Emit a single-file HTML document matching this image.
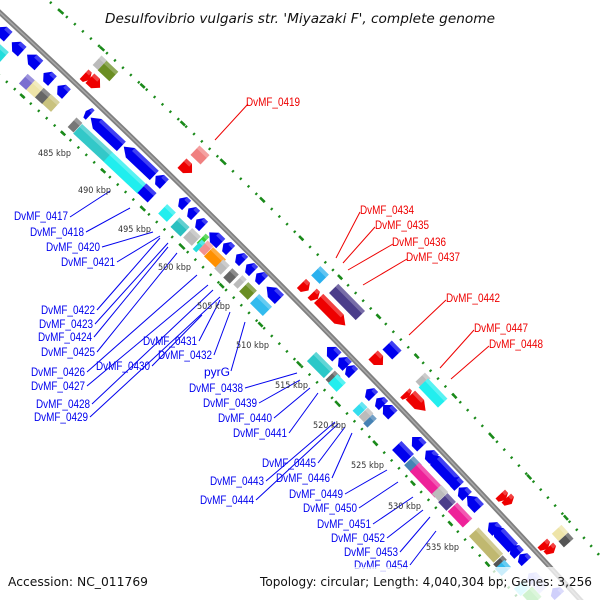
<!DOCTYPE html>
<html><head><meta charset="utf-8"><style>
html,body{margin:0;padding:0;background:#fff;width:600px;height:600px;overflow:hidden}
svg{display:block}
.lb{font-family:"Liberation Sans","DejaVu Sans",sans-serif;font-size:12px;fill:#0000ee}
.lr{font-family:"Liberation Sans","DejaVu Sans",sans-serif;font-size:12px;fill:#ee0000}
.kb{font-family:"DejaVu Sans","Liberation Sans",sans-serif;font-size:9px;fill:#333}
</style></head><body>
<svg width="600" height="600" viewBox="0 0 600 600" xmlns="http://www.w3.org/2000/svg">
<g fill="none" stroke="#1a8a1a">
<path d="M50 2 Q330 250 600 556" stroke-width="2.6" stroke-dasharray="2 8.8"/>
<path d="M50 2 Q330 250 600 556" stroke-width="2.6" stroke-dasharray="6 49" stroke-dashoffset="-12"/>
<path d="M-2 74 Q250 300 520 600" stroke-width="2.6" stroke-dasharray="2 8.8"/>
<path d="M-2 74 Q250 300 520 600" stroke-width="2.6" stroke-dasharray="6 49" stroke-dashoffset="-30"/>
</g>
<path d="M-5 8 Q270 262 585 605" fill="none" stroke="#808080" stroke-width="5"/>
<path d="M-5 8 Q270 262 585 605" fill="none" stroke="#a8a8a8" stroke-width="1.5"/>
<g id="genes"></g>
</svg>
<script>
(function(){
var NS="http://www.w3.org/2000/svg";
var B="#0000ee",R="#ee0000";
var G=[
[3,32,14,B,'l'],[17,47,14,B,'l'],[33,60,16,B,'l'],[48,77,12,B,'l'],[62,90,12,B,'l'],[0,53,12,'#22dddd','b'],
[27,82,10,'#7b6fd0','b'],[35,89,12,'#eee4a8','b'],[43,96,10,'#666','b'],[51,103,12,'#c9c27e','b'],
[87,77,8,R,'r'],[95,83,14,R,'r'],[100,63,8,'#bbb','b'],[108,71,16,'#6b8e23','b'],
[88,113,6,B,'l'],[106,132,42,B,'l'],[75,125,8,'#777','b'],[93,143,42,'#33c8c8','b'],[125,173,47,'#20eeee','b'],[139,161,42,B,'l'],[160,180,12,B,'l'],[147,193,14,B,'b'],
[200,155,14,'#f08080','b'],[187,168,14,R,'r'],
[183,202,10,B,'l'],[192,212,10,B,'l'],[200,223,10,B,'l'],[215,238,16,B,'l'],[227,247,10,B,'l'],[240,258,10,B,'l'],[250,268,10,B,'l'],[260,277,10,B,'l'],[273,293,18,B,'l'],
[167,213,12,'#22eeee','b'],[180,227,14,'#2bc0c0','b'],[192,237,12,'#bbb','b'],[203,240,5,'#33cc33','b'],[199,246,5,'#22dddd','b'],[206,248,8,'#f29090','b'],[215,258,18,'#ff9000','b'],
[222,267,9,'#bbb','b'],[231,276,9,'#666','b'],[240,282,6,'#bbb','b'],[248,291,12,'#6b8e23','b'],[261,305,18,'#33bbee','b'],
[320,275,12,'#2ab0ee','b'],[305,287,10,R,'r'],[315,296,8,R,'r'],[332,312,38,R,'r'],[347,302,38,'#4b3d8a','b'],
[378,360,14,R,'r'],[392,350,14,B,'b'],
[332,352,14,B,'l'],[343,362,12,B,'l'],[350,370,10,B,'l'],[320,365,24,'#2bc8c8','b'],[333,378,8,'#666','b'],[337,383,12,'#22eeee','b'],
[370,393,10,B,'l'],[380,402,10,B,'l'],[388,410,14,B,'l'],[360,409,8,'#33ddee','b'],[366,415,8,'#bbb','b'],[370,421,6,'#4682b4','b'],
[423,380,8,'#bbb','b'],[433,393,28,'#22eeee','b'],[418,403,22,R,'r'],[407,395,6,R,'r'],
[403,452,18,B,'b'],[417,442,14,B,'l'],[430,455,12,B,'l'],[442,468,38,B,'l'],[455,482,12,B,'l'],[463,492,12,B,'l'],[473,502,18,B,'l'],
[413,465,12,'#4682b4','b'],[427,480,36,'#ee2299','b'],[440,493,10,'#bbb','b'],[447,502,12,'#4b3d8a','b'],[460,515,22,'#ee2299','b'],
[493,527,12,B,'l'],[503,537,30,B,'l'],[515,550,12,B,'l'],[523,558,10,B,'l'],[486,545,36,'#c0b870','b'],[500,562,6,'#555','b'],[503,568,10,'#33bbee','b'],
[503,497,8,R,'r'],[509,501,8,R,'r'],[545,546,8,R,'r'],[551,550,8,R,'r'],[560,533,10,'#eee4a8','b'],[566,540,8,'#555','b'],
[532,577,10,'#aab0ff','l'],[540,585,12,'#ccd0ff','b'],[522,588,10,'#88eeff','b'],[532,596,14,'#44cc44','b'],[556,592,10,'#4444ee','l']
];
var g=document.getElementById('genes');
G.forEach(function(a){
 var x=a[0],y=a[1],L=a[2],c=a[3],t=a[4],h=6.5,ang=42+x/100;
 var e=document.createElementNS(NS,'g');
 e.setAttribute('transform','translate('+x+','+y+') rotate('+ang+')');
 var p=document.createElementNS(NS,'polygon'),pts,hl=Math.min(L*0.45,9),l=L/2;
 if(t=='b')pts=[[-l,-h],[l,-h],[l,h],[-l,h]];
 else if(t=='l')pts=[[-l,0],[-l+hl,-h],[l,-h],[l,h],[-l+hl,h]];
 else pts=[[l,0],[l-hl,-h],[-l,-h],[-l,h],[l-hl,h]];
 p.setAttribute('points',pts.map(function(q){return q.join(',')}).join(' '));
 p.setAttribute('fill',c);
 e.appendChild(p);
 var s=document.createElementNS(NS,'rect');
 s.setAttribute('x',-l+(t=='l'?hl:0));s.setAttribute('y',-h);s.setAttribute('width',Math.max(L-(t=='b'?0:hl),0));s.setAttribute('height',4);
 s.setAttribute('fill','#fff');s.setAttribute('opacity','0.25');
 e.appendChild(s);
 g.appendChild(e);
});
var LB=[
['DvMF_0417',68,220,'e',70,217,110,191],['DvMF_0418',84,236,'e',86,232,130,208],['DvMF_0420',100,251,'e',102,247,153,232],['DvMF_0421',115,266,'e',117,262,160,236],
['DvMF_0422',95,314,'e',97,310,160,238],['DvMF_0423',93,328,'e',95,324,168,243],['DvMF_0424',92,341,'e',94,337,168,247],['DvMF_0425',95,356,'e',97,352,177,253],
['DvMF_0426',85,376,'e',87,372,197,275],['DvMF_0427',85,390,'e',87,386,208,285],['DvMF_0428',90,408,'e',92,404,213,290],['DvMF_0429',88,421,'e',90,417,220,297],
['DvMF_0430',150,370,'e',152,366,202,315],['DvMF_0431',197,345,'e',199,341,220,300],['DvMF_0432',212,359,'e',214,355,230,312],['pyrG',230,376,'e',231,371,245,322],
['DvMF_0438',243,392,'e',245,388,297,373],['DvMF_0439',257,407,'e',259,403,300,380],['DvMF_0440',272,422,'e',274,418,310,388],['DvMF_0441',287,437,'e',289,433,318,393],
['DvMF_0445',316,467,'e',318,463,345,427],['DvMF_0443',264,485,'e',266,481,335,422],['DvMF_0446',330,482,'e',332,478,352,433],['DvMF_0444',254,504,'e',256,500,338,424],
['DvMF_0449',343,498,'e',345,494,387,470],['DvMF_0450',357,512,'e',359,508,398,482],['DvMF_0451',371,528,'e',373,524,413,497],['DvMF_0452',385,542,'e',387,538,423,510],
['DvMF_0453',398,556,'e',400,552,430,517],['DvMF_0454',408,569,'e',410,565,436,531]
];
var RL=[
['DvMF_0419',246,106,215,140,248,104],['DvMF_0434',360,214,336,258,360,212],['DvMF_0435',375,229,343,263,375,227],['DvMF_0436',392,246,348,270,393,244],
['DvMF_0437',406,261,363,285,407,259],['DvMF_0442',446,302,409,335,446,300],['DvMF_0447',474,332,440,368,474,330],['DvMF_0448',489,348,451,379,489,346]
];
var svg=document.querySelector('svg');
function ln(x1,y1,x2,y2,c){var l=document.createElementNS(NS,'line');l.setAttribute('x1',x1);l.setAttribute('y1',y1);l.setAttribute('x2',x2);l.setAttribute('y2',y2);l.setAttribute('stroke',c);svg.appendChild(l);}
function tx(s,x,y,cls,anchor){var t=document.createElementNS(NS,'text');t.setAttribute('x',x);t.setAttribute('y',y);t.setAttribute('class',cls);if(anchor)t.setAttribute('text-anchor',anchor);if(s.length==9){t.setAttribute('textLength',54);t.setAttribute('lengthAdjust','spacingAndGlyphs');}t.textContent=s;svg.appendChild(t);}
LB.forEach(function(a){ln(a[4],a[5],a[6],a[7],'#0000ee');tx(a[0],a[1],a[2],'lb','end');});
RL.forEach(function(a){ln(a[3],a[4],a[5],a[6],'#ee0000');tx(a[0],a[1],a[2],'lr');});
var K=[[485,38,156],[490,78,193],[495,118,232],[500,158,270],[505,197,309],[510,236,348],[515,275,388],[520,313,428],[525,351,468],[530,388,509],[535,426,550]];
K.forEach(function(k){var t=document.createElementNS(NS,'text');t.setAttribute('x',k[1]);t.setAttribute('y',k[2]);t.setAttribute('class','kb');t.setAttribute('textLength',33);t.setAttribute('lengthAdjust','spacingAndGlyphs');t.textContent=k[0]+' kbp';svg.appendChild(t);});
})();
</script>
<svg width="600" height="600" viewBox="0 0 600 600" style="position:absolute;left:0;top:0" xmlns="http://www.w3.org/2000/svg">
<rect x="0" y="567" width="600" height="33" fill="#fff" opacity="0.75"/>
<text x="300" y="23" text-anchor="middle" font-family="'DejaVu Sans','Liberation Sans',sans-serif" font-style="italic" font-size="13" fill="#111" textLength="390" lengthAdjust="spacingAndGlyphs">Desulfovibrio vulgaris str. 'Miyazaki F', complete genome</text>
<text x="8" y="586" font-family="'DejaVu Sans','Liberation Sans',sans-serif" font-size="12" fill="#111" textLength="140" lengthAdjust="spacingAndGlyphs">Accession: NC_011769</text>
<text x="260" y="586" font-family="'DejaVu Sans','Liberation Sans',sans-serif" font-size="12" fill="#111" textLength="332" lengthAdjust="spacingAndGlyphs">Topology: circular; Length: 4,040,304 bp; Genes: 3,256</text>
</svg>
</body></html>
